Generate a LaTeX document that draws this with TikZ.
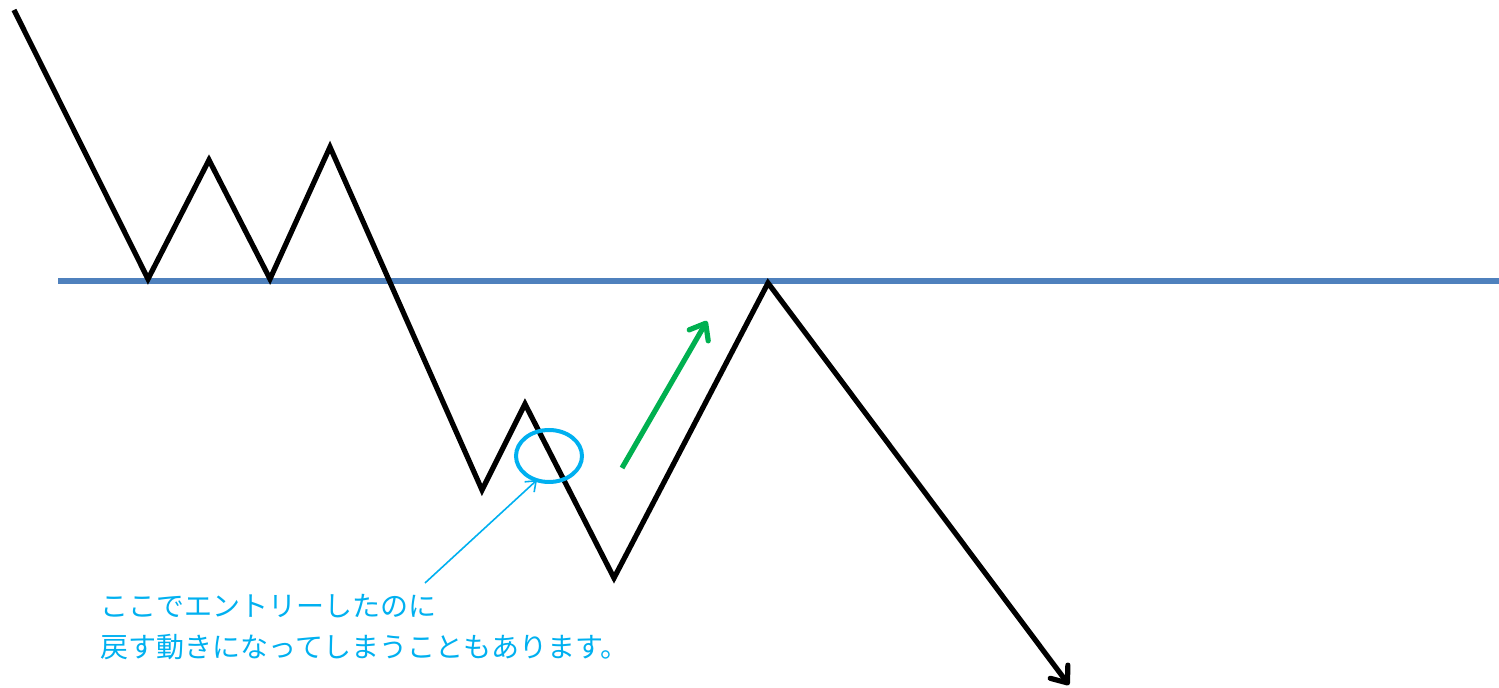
\documentclass[tikz,border=0pt]{standalone}
\usepackage{fontspec}
\newfontfamily\jpfont{Noto Sans CJK JP}
\usetikzlibrary{arrows.meta}

\definecolor{lineblue}{HTML}{4F81BD}
\definecolor{notecyan}{HTML}{00B0F0}
\definecolor{upgreen}{HTML}{00B050}

\begin{document}
\begin{tikzpicture}[
    x=0.5pt, y=-0.5pt,
    price/.style={line width=2.6pt, black},
    level/.style={line width=2.6pt, lineblue},
    barb/.tip={Straight Barb[length=7pt, width=11pt, round]},
    entrymark/.style={draw=notecyan, line width=2pt},
    pointer/.style={-{Straight Barb[length=4.5pt, width=7pt]}, line width=0.8pt, notecyan},
    note/.style={font=\jpfont\fontsize{14pt}{20.5pt}\selectfont, text=notecyan, align=left, inner sep=0pt}
]
\useasboundingbox (0,0) rectangle (1499,688);

% Level line
\coordinate (lvlL) at (58,281);
\coordinate (lvlR) at (1499,281);
\draw[level] (lvlL) -- (lvlR);

% Price path
\coordinate (p0) at (14,10);
\coordinate (p1) at (148,279);
\coordinate (p2) at (209,160);
\coordinate (p3) at (270,279);
\coordinate (p4) at (330,147);
\coordinate (p5) at (482,490);
\coordinate (p6) at (525,404);
\coordinate (p7) at (614,578);
\coordinate (p8) at (768,283);
\coordinate (p9) at (1069,685);
\draw[price, -barb] (p0) -- (p1) -- (p2) -- (p3) -- (p4) -- (p5) -- (p6) -- (p7) -- (p8) -- (p9);

% Entry mark
\draw[entrymark] (549,456) ellipse [x radius=33, y radius=26];
\coordinate (entry) at (537,480);

% Up move
\coordinate (upA) at (622,468);
\coordinate (upB) at (707,321);
\draw[line width=2.6pt, upgreen, -barb] (upA) -- (upB);

% Note
\node[note, anchor=north west] (txt) at (100,594) {ここでエントリーしたのに\\戻す動きになってしまうこともあります。};
\coordinate (ptr) at (425,583);
\draw[pointer] (ptr) -- (entry);

\end{tikzpicture}
\end{document}
